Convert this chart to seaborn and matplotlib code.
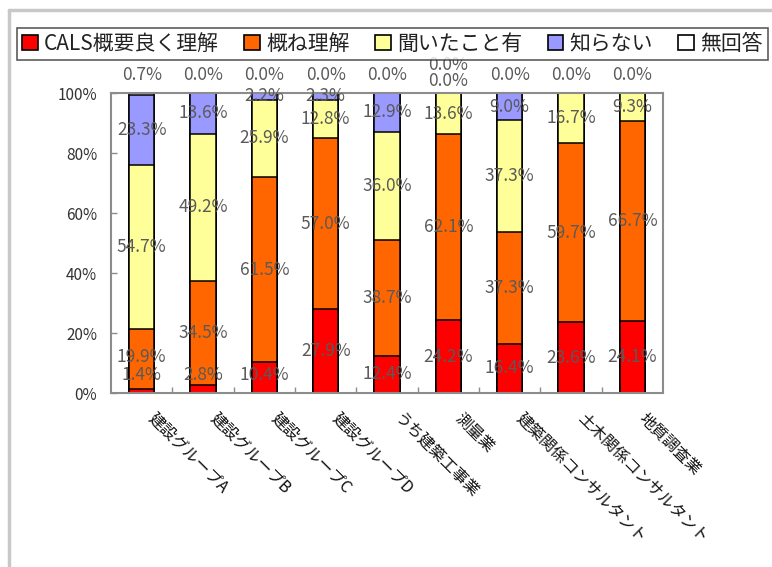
import numpy as np
import pandas as pd
import matplotlib
matplotlib.use("Agg")
import matplotlib.pyplot as plt
import matplotlib.transforms as mtransforms
from matplotlib.patches import Patch
from matplotlib.lines import Line2D
import seaborn as sns

# Survey: awareness of CALS by industry group (percent of respondents)
categories = ["建設グループA", "建設グループB", "建設グループC", "建設グループD",
              "うち建築工事業", "測量業", "建築関係コンサルタント",
              "土木関係コンサルタント", "地質調査業"]
series_names = ["CALS概要良く理解", "概ね理解", "聞いたこと有", "知らない", "無回答"]
well_understood = [1.4, 2.8, 10.4, 27.9, 12.4, 24.2, 16.4, 23.6, 24.1]
mostly_understood = [19.9, 34.5, 61.5, 57.0, 38.7, 62.1, 37.3, 59.7, 66.7]
heard_of = [54.7, 49.2, 25.9, 12.8, 36.0, 13.6, 37.3, 16.7, 9.3]
unaware = [23.3, 13.6, 2.2, 2.3, 12.9, 0.0, 9.0, None, None]
no_answer = [0.7, 0.0, 0.0, 0.0, 0.0, 0.0, 0.0, 0.0, 0.0]
colors = ["#FF0000", "#FF6600", "#FFFF99", "#9999FF", "#FFFFFF"]
y_ticks = [0, 20, 40, 60, 80, 100]

sns.set_style("white")
plt.rcParams["font.family"] = ["Noto Sans CJK JP", "DejaVu Sans"]

series = [well_understood, mostly_understood, heard_of, unaware, no_answer]
vals = np.array([[np.nan if v is None else v for v in s] for s in series], dtype=float)
filled = np.nan_to_num(vals)
tops = np.cumsum(filled, axis=0)
bottoms = tops - filled

df = pd.DataFrame(tops.T, columns=series_names)
df["category"] = categories

W, H = 772, 567
fig = plt.figure(figsize=(W / 100, H / 100), dpi=100)
ax = fig.add_axes([111 / W, 1 - 393 / H, (663 - 111) / W, (393 - 93) / H])

# stacked bars: draw cumulative totals from the top layer down
for k in range(len(series_names) - 1, -1, -1):
    sns.barplot(data=df, x="category", y=series_names[k], order=categories,
                color=colors[k], saturation=1, width=0.41, errorbar=None,
                edgecolor="black", linewidth=1.1, ax=ax)

# value labels, centred in each segment and nudged apart where crowded
GAP, FLOOR = 6.0, 6.0
ZERO_MIN, TOP_MIN, TOP_GAP = 104.0, 106.0, 5.5
last = len(series_names) - 1
for i in range(len(categories)):
    prev = -np.inf
    for k in range(len(series_names)):
        v = vals[k, i]
        if np.isnan(v):
            continue
        y = (bottoms[k, i] + tops[k, i]) / 2
        if k == last:
            y = max(y, TOP_MIN, prev + TOP_GAP)
        else:
            y = max(y, FLOOR, prev + GAP)
            if v == 0:
                y = max(y, ZERO_MIN)
        ax.text(i, y, f"{v:.1f}%", ha="center", va="center", fontsize=12.5,
                color="#5a5a5a", clip_on=False)
        prev = y

ax.set_xlim(-0.5, len(categories) - 0.5)
ax.set_ylim(0, 100)
ax.set_xlabel("")
ax.set_ylabel("")

ax.set_yticks(y_ticks)
ax.set_yticklabels([f"{t}%" for t in y_ticks])
ax.tick_params(axis="y", direction="in", length=4, width=1, color="#8c8c8c",
               pad=10, labelsize=11, labelcolor="#333333", left=True)

ax.set_xticks(range(len(categories)))
ax.set_xticklabels(categories, rotation=-45, ha="left", va="top",
                   rotation_mode="anchor", fontsize=11.5, color="#111111")
ax.set_xticks(np.arange(0.5, len(categories) - 1), minor=True)
ax.tick_params(axis="x", which="major", length=0, pad=12)
ax.tick_params(axis="x", which="minor", direction="in", length=4, width=1,
               color="#8c8c8c", bottom=True)
shift = mtransforms.ScaledTranslation(11 / 72, 0, fig.dpi_scale_trans)
for lbl in ax.get_xticklabels():
    lbl.set_transform(lbl.get_transform() + shift)

for sp in ax.spines.values():
    sp.set_visible(True)
    sp.set_color("#8c8c8c")
    sp.set_linewidth(1.5)

handles = [Patch(facecolor=c, edgecolor="black", linewidth=1.2) for c in colors]
leg = fig.legend(handles, series_names, loc="lower left",
                 bbox_to_anchor=(17 / W, 1 - 60 / H, 751 / W, 37 / H),
                 bbox_transform=fig.transFigure, mode="expand", ncol=5,
                 frameon=True, fancybox=False, fontsize=15,
                 handlelength=0.75, handleheight=0.75, handletextpad=0.3,
                 borderaxespad=0, borderpad=0.25, columnspacing=0.4)
leg.get_frame().set_edgecolor("#333333")
leg.get_frame().set_linewidth(1.2)
for t in leg.get_texts():
    t.set_color("#222222")

# light grey window border along the top and left
fig.add_artist(Line2D([8.5 / W, 1], [1 - 9.5 / H, 1 - 9.5 / H],
                      transform=fig.transFigure, color="#c8c8c8", linewidth=2.5))
fig.add_artist(Line2D([8.5 / W, 8.5 / W], [0, 1 - 9.5 / H],
                      transform=fig.transFigure, color="#c8c8c8", linewidth=2.5))

fig.savefig("out.png", dpi=100)
